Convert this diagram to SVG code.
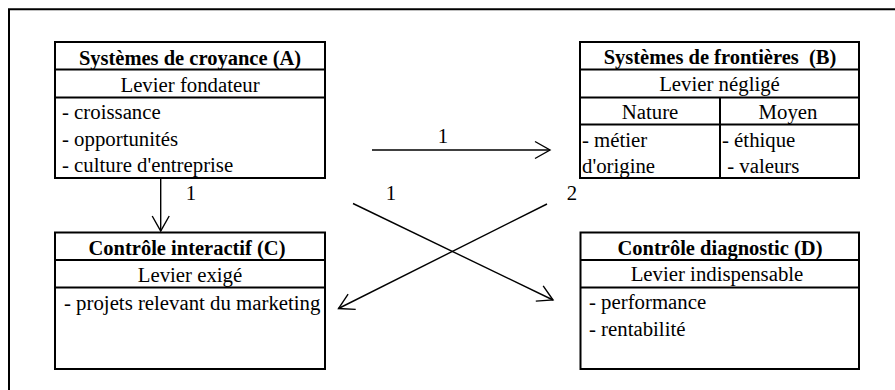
<svg xmlns="http://www.w3.org/2000/svg" width="895" height="390" viewBox="0 0 895 390">
  <style>
    text { font-family: "Liberation Serif", "Times New Roman", serif; font-size: 20.8px; fill: #000; }
    .h { font-weight: bold; font-size: 20.5px; text-anchor: middle; }
    .c { text-anchor: middle; }
    .box { fill: #fff; stroke: #000; stroke-width: 2; }
    .sep { stroke: #000; stroke-width: 2; fill: none; }
    .conn { stroke: #000; stroke-width: 1.4; fill: none; }
  </style>
  <defs>
    <marker id="arr" markerUnits="userSpaceOnUse" viewBox="-16 -10 18 20" refX="0" refY="0" markerWidth="18" markerHeight="20" orient="auto">
      <path d="M-15,-8.5 L0,0 L-15,8.5" fill="none" stroke="#000" stroke-width="1.4"/>
    </marker>
  </defs>
  <rect width="895" height="390" fill="#fff"/>
  <path d="M9,390 V9.3 H895" fill="none" stroke="#000" stroke-width="2"/>

  <g id="nodeA">
    <rect class="box" x="55" y="42" width="270" height="136"/>
    <path class="sep" d="M55,69.5 H325 M55,97.5 H325"/>
    <text class="h" x="190" y="65">Systèmes de croyance (A)</text>
    <text class="c" x="190" y="91.5">Levier fondateur</text>
    <text x="62" y="118.5">- croissance</text>
    <text x="62" y="145.5">- opportunités</text>
    <text x="62" y="172">- culture d'entreprise</text>
  </g>

  <g id="nodeB">
    <rect class="box" x="580" y="42" width="279" height="136"/>
    <path class="sep" d="M580,69.5 H859 M580,97.5 H859 M580,124.5 H859 M720,97.5 V178"/>
    <text class="h" x="720" y="64" xml:space="preserve">Systèmes de frontières  (B)</text>
    <text class="c" x="719.5" y="91">Levier négligé</text>
    <text class="c" x="650" y="119">Nature</text>
    <text class="c" x="788" y="119">Moyen</text>
    <text x="582" y="146.5">- métier</text>
    <text x="582" y="173">d'origine</text>
    <text x="722" y="146.5">- éthique</text>
    <text x="722" y="173" xml:space="preserve"> - valeurs</text>
  </g>

  <g id="nodeC">
    <rect class="box" x="55" y="232.5" width="270" height="136.5"/>
    <path class="sep" d="M55,260 H325 M55,287.5 H325"/>
    <text class="h" x="187" y="255">Contrôle interactif (C)</text>
    <text class="c" x="190" y="281.5">Levier exigé</text>
    <text x="64" y="310">- projets relevant du marketing</text>
  </g>

  <g id="nodeD">
    <rect class="box" x="580.5" y="232.5" width="278.5" height="136.5"/>
    <path class="sep" d="M580.5,260 H859 M580.5,287.5 H859"/>
    <text class="h" x="720" y="254.5">Contrôle diagnostic (D)</text>
    <text class="c" x="717" y="280.5">Levier indispensable</text>
    <text x="589" y="309">- performance</text>
    <text x="589" y="335.5">- rentabilité</text>
  </g>

  <g id="connectors">
    <line class="conn" x1="160.7" y1="178" x2="160.7" y2="231" marker-end="url(#arr)"/>
    <line class="conn" x1="372" y1="150" x2="550" y2="150" marker-end="url(#arr)"/>
    <line class="conn" x1="353" y1="203.5" x2="553" y2="300" marker-end="url(#arr)"/>
    <line class="conn" x1="547" y1="204" x2="338.5" y2="308.5" marker-end="url(#arr)"/>
    <text class="c" x="191" y="199.5">1</text>
    <text class="c" x="443" y="143">1</text>
    <text class="c" x="391" y="199.5">1</text>
    <text class="c" x="572" y="199.5">2</text>
  </g>
</svg>
